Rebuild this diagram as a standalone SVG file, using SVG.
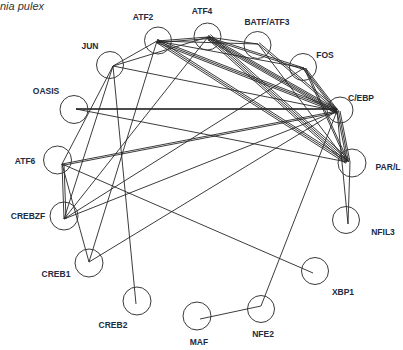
<svg xmlns="http://www.w3.org/2000/svg" xmlns:xlink="http://www.w3.org/1999/xlink" width="403" height="350" viewBox="0 0 403 350">
<style>
.bg{fill:#fff}
.node circle{fill:none;stroke:#3a3a3a;stroke-width:1}
.lbl{font-family:"Liberation Sans",Arial,sans-serif;font-weight:bold;font-size:8.5px;fill:#222b40;text-anchor:middle}
.title{font-family:"Liberation Sans",Arial,sans-serif;font-style:italic;font-size:11px;fill:#333}
#edges line,#edges use{stroke:#262626;stroke-width:0.9;fill:none}
#edges .thick{stroke:#111;stroke-width:1.6}
</style>
<rect class="bg" x="0" y="0" width="403" height="350"/>
<text class="title" x="0" y="10">nia pulex</text>
<g id="edges">
<line x1="76" y1="109" x2="337" y2="109" class="thick"/>
<line x1="76" y1="109" x2="347" y2="162"/>
<line x1="113" y1="66" x2="157" y2="41"/>
<line x1="113" y1="66" x2="208" y2="37"/>
<line x1="113" y1="66" x2="337" y2="111"/>
<line x1="113" y1="66" x2="136" y2="304"/>
<line x1="113" y1="66" x2="62" y2="164"/>
<line x1="113" y1="66" x2="64" y2="219"/>
<line id="e_atf6_cebp" x1="62" y1="164" x2="337" y2="111"/>
<use xlink:href="#e_atf6_cebp" transform="translate(0,1.5)"/>
<line x1="62" y1="164" x2="313" y2="273"/>
<line id="e_atf6_crebzf" x1="62" y1="164" x2="64" y2="219"/>
<use xlink:href="#e_atf6_crebzf" transform="translate(2,0)"/>
<line x1="62" y1="164" x2="89" y2="262"/>
<line x1="64" y1="219" x2="208" y2="37"/>
<line x1="64" y1="219" x2="304" y2="68"/>
<line x1="64" y1="219" x2="337" y2="111"/>
<line x1="89" y1="262" x2="157" y2="41"/>
<line x1="89" y1="262" x2="337" y2="111"/>
<line id="e_atf2_atf4" x1="157" y1="41" x2="208" y2="37"/>
<use xlink:href="#e_atf2_atf4" transform="translate(0,1.6)"/>
<line x1="157" y1="41" x2="258" y2="44"/>
<line x1="157" y1="41" x2="304" y2="68"/>
<line id="e_atf2_cebp" x1="157" y1="41" x2="337" y2="111"/>
<use xlink:href="#e_atf2_cebp" transform="translate(0,1.6)"/>
<use xlink:href="#e_atf2_cebp" transform="translate(0,-1.6)"/>
<line id="e_atf2_parl" x1="157" y1="41" x2="347" y2="162"/>
<use xlink:href="#e_atf2_parl" transform="translate(1.2,-1.2)"/>
<use xlink:href="#e_atf2_parl" transform="translate(-1.2,1.2)"/>
<line x1="208" y1="37" x2="258" y2="44"/>
<line id="e_atf4_fos" x1="208" y1="37" x2="304" y2="68"/>
<use xlink:href="#e_atf4_fos" transform="translate(0,1.6)"/>
<line id="e_atf4_cebp" x1="208" y1="37" x2="337" y2="111"/>
<use xlink:href="#e_atf4_cebp" transform="translate(0,1.5)"/>
<use xlink:href="#e_atf4_cebp" transform="translate(0,-1.5)"/>
<use xlink:href="#e_atf4_cebp" transform="translate(0,3)"/>
<line id="e_atf4_parl" x1="208" y1="37" x2="347" y2="162"/>
<use xlink:href="#e_atf4_parl" transform="translate(1.2,-1.2)"/>
<use xlink:href="#e_atf4_parl" transform="translate(-1.2,1.2)"/>
<use xlink:href="#e_atf4_parl" transform="translate(2.4,-2.4)"/>
<line id="e_batf_cebp" x1="258" y1="44" x2="337" y2="111"/>
<use xlink:href="#e_batf_cebp" transform="translate(1.2,-1.2)"/>
<line x1="258" y1="44" x2="347" y2="162"/>
<line id="e_fos_cebp" x1="304" y1="68" x2="337" y2="111"/>
<use xlink:href="#e_fos_cebp" transform="translate(1.5,0)"/>
<use xlink:href="#e_fos_cebp" transform="translate(-1.5,0)"/>
<line id="e_fos_parl" x1="304" y1="68" x2="347" y2="162"/>
<use xlink:href="#e_fos_parl" transform="translate(1.5,0)"/>
<line id="e_cebp_parl" x1="337" y1="111" x2="347" y2="162"/>
<use xlink:href="#e_cebp_parl" transform="translate(1.5,0)"/>
<use xlink:href="#e_cebp_parl" transform="translate(3,0)"/>
<line x1="337" y1="111" x2="348" y2="224"/>
<line x1="350" y1="162" x2="348" y2="224"/>
<line x1="337" y1="111" x2="261" y2="306"/>
<line x1="261" y1="306" x2="200" y2="319"/>
</g>
<g id="n_atf2" class="node"><circle cx="158" cy="40.5" r="13.5"/><text class="lbl" x="143" y="20">ATF2</text></g>
<g id="n_atf4" class="node"><circle cx="207.5" cy="36.5" r="13.5"/><text class="lbl" x="202" y="14">ATF4</text></g>
<g id="n_batf" class="node"><circle cx="257.5" cy="45" r="13.5"/><text class="lbl" x="267" y="25">BATF/ATF3</text></g>
<g id="n_fos" class="node"><circle cx="303" cy="67" r="13.5"/><text class="lbl" x="325" y="58">FOS</text></g>
<g id="n_cebp" class="node"><circle cx="340" cy="110" r="13"/><text class="lbl" x="361" y="101">C/EBP</text></g>
<g id="n_parl" class="node"><circle cx="352" cy="163" r="14"/><text class="lbl" x="388" y="170">PAR/L</text></g>
<g id="n_nfil3" class="node"><circle cx="346" cy="220" r="13.5"/><text class="lbl" x="383" y="235">NFIL3</text></g>
<g id="n_xbp1" class="node"><circle cx="315" cy="271" r="13.5"/><text class="lbl" x="343" y="295">XBP1</text></g>
<g id="n_nfe2" class="node"><circle cx="261" cy="309" r="13.5"/><text class="lbl" x="263" y="337">NFE2</text></g>
<g id="n_maf" class="node"><circle cx="197" cy="316" r="14"/><text class="lbl" x="199" y="345">MAF</text></g>
<g id="n_creb2" class="node"><circle cx="137" cy="301" r="14"/><text class="lbl" x="113" y="328">CREB2</text></g>
<g id="n_creb1" class="node"><circle cx="89" cy="263" r="14"/><text class="lbl" x="56" y="277">CREB1</text></g>
<g id="n_crebzf" class="node"><circle cx="64" cy="216" r="14"/><text class="lbl" x="28" y="219">CREBZF</text></g>
<g id="n_atf6" class="node"><circle cx="57.5" cy="160" r="14"/><text class="lbl" x="25" y="164">ATF6</text></g>
<g id="n_oasis" class="node"><circle cx="74" cy="109.5" r="14"/><text class="lbl" x="46" y="94">OASIS</text></g>
<g id="n_jun" class="node"><circle cx="110" cy="65" r="13.5"/><text class="lbl" x="90" y="49">JUN</text></g>
</svg>
